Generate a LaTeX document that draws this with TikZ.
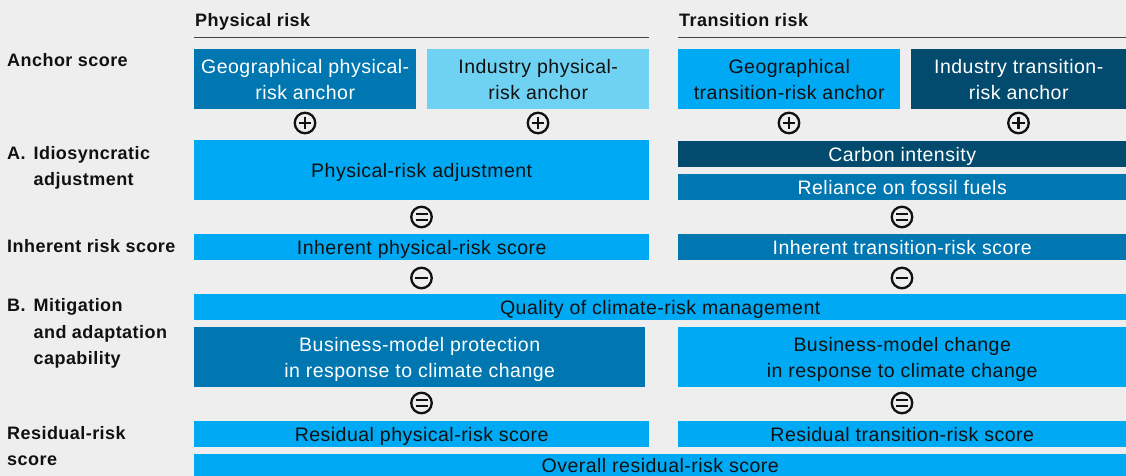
\documentclass[tikz,border=0pt]{standalone}
\usepackage{fontspec}
\setmainfont{Liberation Sans}[LetterSpace=2.5]

\definecolor{bgGray}{HTML}{EEEEEE}
\definecolor{inkDark}{HTML}{111111}
\definecolor{ruleGray}{HTML}{444444}
\definecolor{riskBright}{HTML}{00A9F4}
\definecolor{riskMid}{HTML}{0077B1}
\definecolor{riskNavy}{HTML}{034B6E}
\definecolor{riskPale}{HTML}{6FD2F2}

\newcommand{\tilefont}{\fontsize{19.5}{26.5}\selectfont}
\newcommand{\rowfont}{\bfseries\fontsize{18}{26.5}\selectfont}

\begin{document}
\begin{tikzpicture}[
        x=1pt, y=-1pt,
        tile/.style={rectangle, inner sep=0pt, anchor=north west, align=center, text depth=0pt, font=\tilefont},
        tileBright/.style={tile, fill=riskBright, text=inkDark},
        tileMid/.style={tile, fill=riskMid, text=white},
        tileNavy/.style={tile, fill=riskNavy, text=white},
        tilePale/.style={tile, fill=riskPale, text=inkDark},
        rowlabel/.style={anchor=base west, inner sep=0pt, font=\rowfont, text=inkDark},
        op/.style={circle, draw=inkDark, line width=2.3pt, minimum size=20.5pt, inner sep=0pt},
        opbar/.style={draw=inkDark, line width=2.3pt}
    ]

        % Canvas
        \useasboundingbox (0,0) rectangle (1126,476);
        \fill[bgGray] (0,0) rectangle (1126,476);

        % Column headings
        \node[rowlabel] (hPhys) at (195,27) {Physical risk};
        \node[rowlabel] (hTrans) at (679,27) {Transition risk};
        \draw[ruleGray, line width=1.3pt] (194,37.5) -- (649,37.5);
        \draw[ruleGray, line width=1.3pt] (678,37.5) -- (1126,37.5);

        % Row labels
        \node[rowlabel] (lAnchor) at (7,66.5) {Anchor score};
        \node[rowlabel] (lIdio) at (7,159) {\begin{tabular}[t]{@{}l@{\hspace{8pt}}l@{}}A. & Idiosyncratic\\ & adjustment\end{tabular}};
        \node[rowlabel] (lInherent) at (7,252.5) {Inherent risk score};
        \node[rowlabel] (lMitig) at (7,311.5) {\begin{tabular}[t]{@{}l@{\hspace{8pt}}l@{}}B. & Mitigation\\ & and adaptation\\ & capability\end{tabular}};
        \node[rowlabel] (lResidual) at (7,439) {\begin{tabular}[t]{@{}l@{}}Residual-risk\\score\end{tabular}};

        % Anchor scores
        \node[tileMid, minimum width=222pt, minimum height=60pt] (geoPhys) at (194,49) {Geographical physical-\\risk anchor};
        \node[tilePale, minimum width=222pt, minimum height=60pt] (indPhys) at (427,49) {Industry physical-\\risk anchor};
        \node[tileBright, minimum width=222pt, minimum height=60pt] (geoTrans) at (678,49) {Geographical\\transition-risk anchor};
        \node[tileNavy, minimum width=215pt, minimum height=60pt] (indTrans) at (911,49) {Industry transition-\\risk anchor};

        % A. Idiosyncratic adjustment
        \node[tileBright, minimum width=455pt, minimum height=60pt] (physAdj) at (194,140) {Physical-risk adjustment};
        \node[tileNavy, minimum width=448pt, minimum height=26pt] (carbon) at (678,141) {Carbon intensity};
        \node[tileMid, minimum width=448pt, minimum height=26pt] (fossil) at (678,174) {Reliance on fossil fuels};

        % Inherent risk scores
        \node[tileBright, minimum width=455pt, minimum height=26pt] (inhPhys) at (194,234) {Inherent physical-risk score};
        \node[tileMid, minimum width=448pt, minimum height=26pt] (inhTrans) at (678,234) {Inherent transition-risk score};

        % B. Mitigation and adaptation capability
        \node[tileBright, minimum width=932pt, minimum height=25.5pt] (quality) at (194,294) {Quality of climate-risk management};
        \node[tileMid, minimum width=451pt, minimum height=60pt] (protect) at (194,327) {Business-model protection\\in response to climate change};
        \node[tileBright, minimum width=448pt, minimum height=60pt] (change) at (678,327) {Business-model change\\in response to climate change};

        % Residual-risk scores
        \node[tileBright, minimum width=455pt, minimum height=26pt] (resPhys) at (194,421) {Residual physical-risk score};
        \node[tileBright, minimum width=448pt, minimum height=26pt] (resTrans) at (678,421) {Residual transition-risk score};
        \node[tileBright, minimum width=932pt, minimum height=22pt] (overall) at (194,454) {Overall residual-risk score};

        % Operators
        \node[op] (plusA) at (305,123) {};
        \node[op] (plusB) at (538,123) {};
        \node[op] (plusC) at (789,123) {};
        \node[op] (plusD) at (1018.5,123) {};
        \node[op] (eqA) at (421.5,217) {};
        \node[op] (eqB) at (902,217) {};
        \node[op] (minusA) at (421.5,278) {};
        \node[op] (minusB) at (902,278) {};
        \node[op] (eqC) at (421.5,403) {};
        \node[op] (eqD) at (902,403) {};

        \foreach \n in {plusA,plusB,plusC,plusD} {
            \draw[opbar] (\n.center) ++(-6.3,0) -- ++(12.6,0);
            \draw[opbar] (\n.center) ++(0,-6.3) -- ++(0,12.6);
        }
        \foreach \n in {eqA,eqB,eqC,eqD} {
            \draw[opbar] (\n.center) ++(-6,-3.2) -- ++(12,0);
            \draw[opbar] (\n.center) ++(-6,3.2) -- ++(12,0);
        }
        \foreach \n in {minusA,minusB} {
            \draw[opbar] (\n.center) ++(-6.3,0) -- ++(12.6,0);
        }

    \end{tikzpicture}
\end{document}
